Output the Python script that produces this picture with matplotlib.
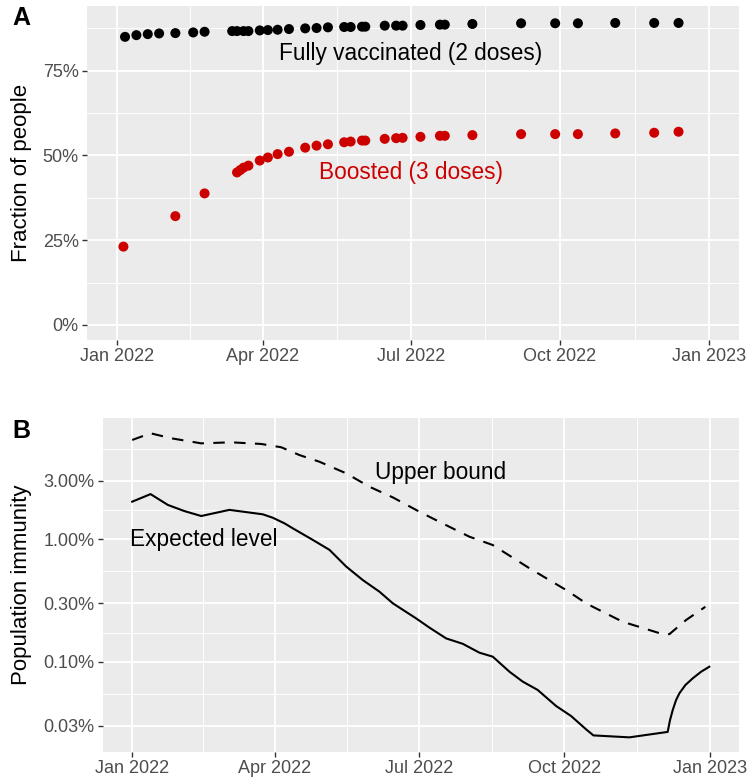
import numpy as np
import pandas as pd
import matplotlib
matplotlib.use("Agg")
import matplotlib.pyplot as plt
import matplotlib.dates as mdates
from matplotlib.ticker import FixedLocator, FuncFormatter, NullFormatter

plt.rcParams['font.family'] = ['Liberation Sans', 'DejaVu Sans']

# panel A: vaccination coverage (percent of people)
full_dates = ["2022-01-06", "2022-01-13", "2022-01-20", "2022-01-27", "2022-02-06",
              "2022-02-17", "2022-02-24", "2022-03-13", "2022-03-16", "2022-03-20",
              "2022-03-23", "2022-03-30", "2022-04-04", "2022-04-10", "2022-04-17",
              "2022-04-27", "2022-05-04", "2022-05-11", "2022-05-21", "2022-05-25",
              "2022-06-01", "2022-06-03", "2022-06-15", "2022-06-22", "2022-06-26",
              "2022-07-07", "2022-07-19", "2022-07-22", "2022-08-08", "2022-09-07",
              "2022-09-28", "2022-10-12", "2022-11-04", "2022-11-28", "2022-12-13"]
full_pct = [85.0, 85.5, 85.8, 86.0, 86.1, 86.3, 86.5, 86.7, 86.7, 86.7,
            86.7, 86.9, 87.0, 87.1, 87.3, 87.5, 87.6, 87.8, 87.9, 87.9,
            88.0, 88.0, 88.3, 88.3, 88.3, 88.5, 88.6, 88.6, 88.8, 89.0,
            89.0, 89.0, 89.1, 89.1, 89.1]

boost_dates = ["2022-01-05", "2022-02-06", "2022-02-24", "2022-03-16", "2022-03-18",
               "2022-03-20", "2022-03-23", "2022-03-30", "2022-04-04", "2022-04-10",
               "2022-04-17", "2022-04-27", "2022-05-04", "2022-05-11", "2022-05-21",
               "2022-05-25", "2022-06-01", "2022-06-03", "2022-06-15", "2022-06-22",
               "2022-06-26", "2022-07-07", "2022-07-19", "2022-07-22", "2022-08-08",
               "2022-09-07", "2022-09-28", "2022-10-12", "2022-11-04", "2022-11-28",
               "2022-12-13"]
boost_pct = [23.1, 32.1, 38.8, 45.0, 45.7, 46.4, 47.0, 48.5, 49.4, 50.4,
             51.1, 52.3, 52.9, 53.3, 53.9, 54.1, 54.4, 54.4, 54.9, 55.1,
             55.2, 55.5, 55.8, 55.8, 56.0, 56.3, 56.3, 56.3, 56.5, 56.7,
             57.0]

# panel B: population immunity (percent), x = days since 2022-01-01
exp_days = [0, 11.6, 22.5, 33, 43.6, 61.4, 82.5, 88.8, 96.2, 101.4, 114, 124.6,
            135.1, 145.6, 156.2, 164.6, 179.3, 187.7, 198.3, 208.8, 219.3, 227.7,
            238.3, 246.7, 256.1, 267.7, 277.2, 286.7, 291.3, 314, 338.2, 339.7,
            341.4, 343.5, 345.6, 349.4, 354, 359.3, 364.5]
exp_pct = [2.03, 2.34, 1.91, 1.70, 1.55, 1.74, 1.60, 1.50, 1.35, 1.23, 0.99, 0.82,
           0.60, 0.465, 0.373, 0.30, 0.226, 0.19, 0.155, 0.14, 0.1185, 0.11,
           0.0828, 0.0687, 0.0588, 0.0435, 0.036, 0.028, 0.025, 0.0241, 0.0267, 0.0334,
           0.0403, 0.0486, 0.0552, 0.0645, 0.0731, 0.0828, 0.091]

up_days = [0, 11.6, 24.6, 43.6, 62.5, 81.5, 94.1, 105.6, 118.3, 135.1, 149.8,
           164.6, 181.4, 194, 213, 227.7, 250.9, 274.1, 286.7, 290.9, 309.8,
           335, 339.3, 349.8, 362]
up_pct = [6.48, 7.35, 6.69, 6.08, 6.2, 6.01, 5.65, 4.88, 4.30, 3.46, 2.69,
          2.20, 1.68, 1.39, 1.05, 0.898, 0.58, 0.385, 0.30, 0.281, 0.212,
          0.168, 0.168, 0.219, 0.281]

red = '#CD0000'
t0 = pd.Timestamp("2022-01-01")
t1 = pd.Timestamp("2023-01-01")
major_dates = pd.to_datetime(["2022-01-01", "2022-04-01", "2022-07-01", "2022-10-01", "2023-01-01"])


def gg_style(ax):
    ax.set_facecolor('#EBEBEB')
    for s in ax.spines.values():
        s.set_visible(False)
    ax.grid(which='major', color='white', lw=1.3)
    ax.grid(which='minor', color='white', lw=0.65)
    ax.set_axisbelow(True)
    ax.tick_params(which='major', length=3.6, width=1.0, color='#333333',
                   labelcolor='#4D4D4D', labelsize=13, pad=2.5)
    ax.tick_params(which='minor', length=0)
    # date axis
    lo, hi = mdates.date2num(t0), mdates.date2num(t1)
    pad = 0.05 * (hi - lo)
    ax.set_xlim(lo - pad, hi + pad)
    maj = mdates.date2num(major_dates)
    ax.xaxis.set_major_locator(FixedLocator(maj))
    ax.xaxis.set_minor_locator(FixedLocator((maj[:-1] + maj[1:]) / 2))
    ax.xaxis.set_major_formatter(mdates.DateFormatter('%b %Y'))
    ax.xaxis.set_minor_formatter(NullFormatter())


fig = plt.figure(figsize=(7.51, 7.83), dpi=100)

# ---- panel A
ax1 = fig.add_axes([87.3 / 751, 1 - 340 / 783, (739 - 87.3) / 751, (340 - 6) / 783])
gg_style(ax1)
ax1.scatter(pd.to_datetime(full_dates), full_pct, s=52, color='black', edgecolors='none', zorder=3)
ax1.scatter(pd.to_datetime(boost_dates), boost_pct, s=52, color=red, edgecolors='none', zorder=3)
ax1.set_ylim(-4.45, 94.1)
ax1.yaxis.set_major_locator(FixedLocator([0, 25, 50, 75]))
ax1.yaxis.set_minor_locator(FixedLocator([12.5, 37.5, 62.5, 87.5]))
ax1.yaxis.set_major_formatter(FuncFormatter(lambda v, p: f"{v:.0f}%"))
ax1.text(pd.Timestamp("2022-07-01"), 80, "Fully vaccinated (2 doses)", ha='center', va='center',
         fontsize=16.3, color='black')
ax1.text(pd.Timestamp("2022-07-01"), 45, "Boosted (3 doses)", ha='center', va='center',
         fontsize=16.3, color=red)
fig.text(22 / 751, 1 - 173 / 783, "Fraction of people", rotation=90, ha='center', va='center', fontsize=16)
fig.text(12 / 751, 1 - 6 / 783, "A", ha='left', va='top', fontsize=18, fontweight='bold')

# ---- panel B
ax2 = fig.add_axes([103.3 / 751, 1 - 751.7 / 783, (739 - 103.3) / 751, (751.7 - 418.3) / 783])
gg_style(ax2)
exp_x = t0 + pd.to_timedelta(exp_days, unit='D')
up_x = t0 + pd.to_timedelta(up_days, unit='D')
ax2.plot(exp_x, exp_pct, color='black', lw=1.5, zorder=3)
ax2.plot(up_x, up_pct, color='black', lw=1.5, linestyle=(0, (5.5, 4.5)), zorder=3)
ax2.set_yscale('log')
ax2.set_ylim(0.0184, 9.74)
yt = [0.03, 0.1, 0.3, 1, 3]
ax2.yaxis.set_major_locator(FixedLocator(yt))
ax2.yaxis.set_minor_locator(FixedLocator([np.sqrt(0.03 * 0.1), np.sqrt(0.1 * 0.3), np.sqrt(0.3 * 1),
                                          np.sqrt(1 * 3), np.sqrt(3 * 10)]))
ax2.yaxis.set_major_formatter(FuncFormatter(lambda v, p: f"{v:.2f}%"))
ax2.yaxis.set_minor_formatter(NullFormatter())
ax2.text(pd.Timestamp("2022-07-15"), 3.5, "Upper bound", ha='center', va='center', fontsize=16.3)
ax2.text(pd.Timestamp("2022-02-15"), 1.0, "Expected level", ha='center', va='center', fontsize=16.3)
fig.text(22 / 751, 1 - 585 / 783, "Population immunity", rotation=90, ha='center', va='center', fontsize=16)
fig.text(12 / 751, 1 - 419 / 783, "B", ha='left', va='top', fontsize=18, fontweight='bold')

fig.savefig('out.png', dpi=100)
plt.close(fig)
